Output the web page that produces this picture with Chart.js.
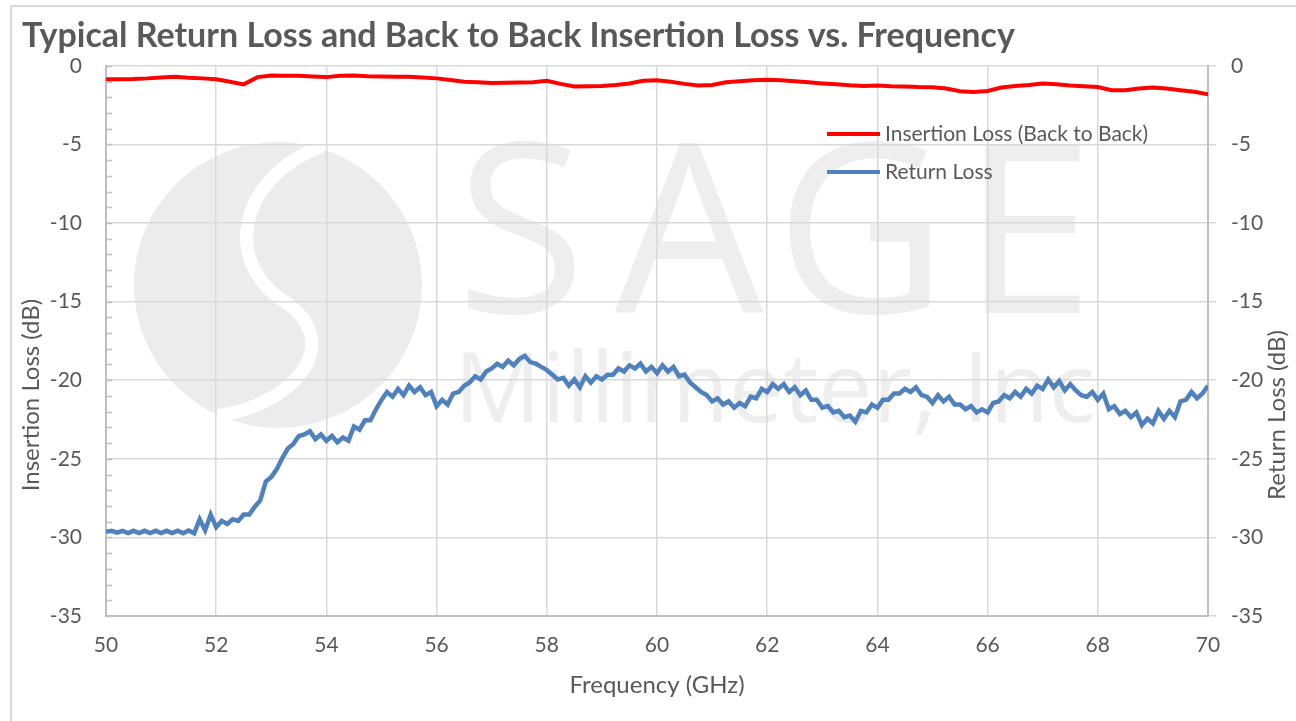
<!DOCTYPE html>
<html>
<head>
<meta charset="utf-8">
<script src="https://cdn.jsdelivr.net/npm/chart.js@4"></script>
<style>
  body { margin: 0; background: #fff; }
  canvas { display: block; }
</style>
</head>
<body>
<canvas id="chart" width="1296" height="721"></canvas>
<script>
const rlStartGHz = 50;
const rlStepGHz = 0.1;
const returnLoss = [
  -29.65, -29.58, -29.70, -29.58, -29.72, -29.58, -29.72, -29.58, -29.72, -29.58,
  -29.72, -29.58, -29.72, -29.58, -29.74, -29.56, -29.74, -28.85, -29.55, -28.55,
  -29.35, -28.95, -29.15, -28.85, -28.95, -28.55, -28.55, -28.05, -27.65, -26.45,
  -26.15, -25.65, -24.95, -24.35, -24.05, -23.55, -23.45, -23.25, -23.75, -23.45,
  -23.85, -23.55, -23.95, -23.65, -23.85, -22.95, -23.15, -22.55, -22.55, -21.85,
  -21.25, -20.75, -21.05, -20.55, -20.95, -20.35, -20.75, -20.45, -20.95, -20.75,
  -21.65, -21.25, -21.55, -20.85, -20.75, -20.35, -20.15, -19.75, -19.95, -19.45,
  -19.25, -18.95, -19.15, -18.75, -19.05, -18.65, -18.45, -18.85, -18.95, -19.15,
  -19.35, -19.65, -19.95, -19.85, -20.35, -19.95, -20.45, -19.75, -20.15, -19.75,
  -19.95, -19.65, -19.65, -19.25, -19.45, -19.05, -19.25, -18.95, -19.45, -19.15,
  -19.55, -19.05, -19.45, -19.15, -19.75, -19.65, -20.15, -20.45, -20.75, -20.95,
  -21.35, -21.15, -21.55, -21.35, -21.75, -21.45, -21.65, -21.05, -21.15, -20.55,
  -20.75, -20.25, -20.55, -20.25, -20.75, -20.45, -20.95, -20.65, -21.25, -21.25,
  -21.75, -21.65, -22.05, -21.95, -22.35, -22.25, -22.65, -21.95, -22.05, -21.55,
  -21.75, -21.25, -21.25, -20.85, -20.85, -20.55, -20.75, -20.45, -20.95, -21.05,
  -21.45, -20.95, -21.35, -21.05, -21.55, -21.55, -21.85, -21.65, -22.05, -21.85,
  -22.05, -21.45, -21.35, -20.95, -21.15, -20.75, -21.05, -20.55, -20.85, -20.35,
  -20.55, -19.95, -20.45, -20.05, -20.65, -20.25, -20.65, -20.95, -21.05, -20.75,
  -21.25, -20.85, -21.85, -21.65, -22.15, -21.95, -22.35, -22.05, -22.85, -22.45,
  -22.75, -21.95, -22.45, -21.95, -22.35, -21.35, -21.25, -20.75, -21.15, -20.85,
  -20.35
];

// Back to back insertion loss, sampled every 0.25 GHz
const ilStartGHz = 50;
const ilStepGHz = 0.25;
const insertionLoss = [
  -0.86, -0.85, -0.84, -0.80, -0.74, -0.70, -0.76, -0.80,
  -0.86, -1.02, -1.18, -0.72, -0.62, -0.64, -0.63, -0.68,
  -0.72, -0.64, -0.62, -0.66, -0.68, -0.70, -0.70, -0.74,
  -0.80, -0.90, -1.02, -1.05, -1.10, -1.08, -1.06, -1.05,
  -0.95, -1.15, -1.32, -1.30, -1.28, -1.22, -1.12, -0.95,
  -0.92, -1.02, -1.15, -1.25, -1.22, -1.05, -0.98, -0.92,
  -0.88, -0.92, -0.98, -1.05, -1.12, -1.18, -1.24, -1.28,
  -1.25, -1.30, -1.32, -1.35, -1.36, -1.45, -1.62, -1.66,
  -1.60, -1.38, -1.28, -1.22, -1.12, -1.18, -1.25, -1.30,
  -1.35, -1.55, -1.55, -1.45, -1.38, -1.45, -1.55, -1.65,
  -1.82
];

const xTicks = [50, 52, 54, 56, 58, 60, 62, 64, 66, 68, 70];
const yTicks = [0, -5, -10, -15, -20, -25, -30, -35];

const FONT = 'Lato';
const TEXT = '#595959';
const GRID = '#d9d9d9';
const AXIS = '#bfbfbf';

const ilPoints = insertionLoss.map((v, i) => ({ x: ilStartGHz + i * ilStepGHz, y: v }));
const rlPoints = returnLoss.map((v, i) => ({ x: rlStartGHz + i * rlStepGHz, y: v }));

// white page, frame edge and the faint SAGE watermark behind the grid
const backdrop = {
  id: 'backdrop',
  beforeDraw(chart) {
    const ctx = chart.ctx;
    ctx.save();
    ctx.fillStyle = '#fff';
    ctx.fillRect(0, 0, chart.width, chart.height);
    ctx.strokeStyle = GRID;
    ctx.lineWidth = 2;
    ctx.beginPath();
    ctx.moveTo(11, chart.height);
    ctx.lineTo(11, 6);
    ctx.lineTo(chart.width, 6);
    ctx.stroke();

    ctx.fillStyle = '#ececec';
    ctx.beginPath();
    ctx.ellipse(278, 285, 144, 143, 0, 0, Math.PI * 2);
    ctx.fill();
    ctx.strokeStyle = '#fff';
    ctx.lineWidth = 13;
    ctx.beginPath();
    ctx.moveTo(322, 146);
    ctx.bezierCurveTo(238, 178, 222, 262, 285, 302);
    ctx.bezierCurveTo(342, 340, 302, 402, 218, 416);
    ctx.stroke();

    ctx.fillStyle = '#eeeeee';
    ctx.textAlign = 'center';
    ctx.textBaseline = 'alphabetic';
    ctx.font = '236px "Open Sans"';
    [['S', 521], ['A', 689], ['G', 861], ['E', 1028]].forEach(([ch, x]) => ctx.fillText(ch, x, 313));
    ctx.textAlign = 'left';
    ctx.font = '97px "Open Sans"';
    ctx.fillText('Millimeter, Inc', 454, 422, 650);
    ctx.restore();
  }
};

// small minor ticks every 1 dB on the left axis
const minorTicks = {
  id: 'minorTicks',
  beforeDatasetsDraw(chart) {
    const ctx = chart.ctx;
    const y = chart.scales.y;
    ctx.save();
    ctx.strokeStyle = AXIS;
    ctx.lineWidth = 1.5;
    for (let v = y.min; v <= y.max; v += 1) {
      const py = Math.round(y.getPixelForValue(v)) + 0.5;
      ctx.beginPath();
      ctx.moveTo(y.right, py);
      ctx.lineTo(y.right + 6, py);
      ctx.stroke();
    }
    ctx.restore();
  }
};

// legend inside plot + rotated axis titles placed like the original
const labels = {
  id: 'labels',
  afterDraw(chart) {
    const ctx = chart.ctx;
    ctx.save();
    ctx.font = '21px ' + FONT;
    ctx.fillStyle = TEXT;
    ctx.textBaseline = 'middle';
    chart.data.datasets.forEach((ds, i) => {
      const ly = 134 + i * 38;
      ctx.strokeStyle = ds.borderColor;
      ctx.lineWidth = 4;
      ctx.beginPath();
      ctx.moveTo(827, ly);
      ctx.lineTo(880, ly);
      ctx.stroke();
      ctx.fillText(ds.label, 885, ly);
    });

    ctx.font = '24px ' + FONT;
    ctx.textAlign = 'center';
    ctx.translate(31, 395);
    ctx.rotate(-Math.PI / 2);
    ctx.fillText('Insertion Loss (dB)', 0, 0);
    ctx.setTransform(1, 0, 0, 1, 0, 0);
    ctx.translate(1277, 415);
    ctx.rotate(-Math.PI / 2);
    ctx.fillText('Return Loss (dB)', 0, 0);
    ctx.restore();
  }
};

new Chart(document.getElementById('chart'), {
  type: 'line',
  data: {
    datasets: [
      {
        label: 'Insertion Loss (Back to Back)',
        data: ilPoints,
        borderColor: '#ff0000',
        backgroundColor: '#ff0000',
        borderWidth: 4,
        pointRadius: 0,
        tension: 0,
        yAxisID: 'y'
      },
      {
        label: 'Return Loss',
        data: rlPoints,
        borderColor: '#4f81bd',
        backgroundColor: '#4f81bd',
        borderWidth: 4.5,
        pointRadius: 0,
        tension: 0,
        yAxisID: 'y2'
      }
    ]
  },
  options: {
    responsive: false,
    animation: false,
    layout: { padding: { left: 22, right: 0, top: 0, bottom: 0 } },
    plugins: {
      legend: { display: false },
      tooltip: { enabled: false },
      title: {
        display: true,
        text: 'Typical Return Loss and Back to Back Insertion Loss vs. Frequency',
        align: 'start',
        color: TEXT,
        font: { family: FONT, size: 34, weight: 'bold' },
        padding: { top: 16, bottom: 9 }
      }
    },
    scales: {
      x: {
        type: 'linear',
        min: 50,
        max: 70,
        afterBuildTicks: s => { s.ticks = xTicks.map(v => ({ value: v })); },
        ticks: { color: TEXT, font: { family: FONT, size: 21 }, padding: 17, maxRotation: 0 },
        grid: { color: GRID, lineWidth: 1.5, drawTicks: false },
        border: { color: AXIS, width: 2 },
        title: {
          display: true,
          text: 'Frequency (GHz)',
          color: TEXT,
          font: { family: FONT, size: 24 },
          padding: { top: 0, bottom: 21 }
        },
        afterFit: s => { s.height = 105; }
      },
      y: {
        position: 'left',
        min: -35,
        max: 0,
        afterBuildTicks: s => { s.ticks = yTicks.map(v => ({ value: v })); },
        ticks: { color: TEXT, font: { family: FONT, size: 21 }, padding: 24 },
        grid: { color: GRID, lineWidth: 1.5, drawTicks: false },
        border: { color: AXIS, width: 2 },
        afterFit: s => { s.width = 84; }
      },
      y2: {
        position: 'right',
        min: -35,
        max: 0,
        afterBuildTicks: s => { s.ticks = yTicks.map(v => ({ value: v })); },
        ticks: { color: TEXT, font: { family: FONT, size: 21 }, padding: 15 },
        grid: { drawOnChartArea: false, color: GRID, lineWidth: 1.5, tickLength: 8 },
        border: { color: AXIS, width: 2 },
        afterFit: s => { s.width = 88; }
      }
    }
  },
  plugins: [backdrop, minorTicks, labels]
});
</script>
</body>
</html>
